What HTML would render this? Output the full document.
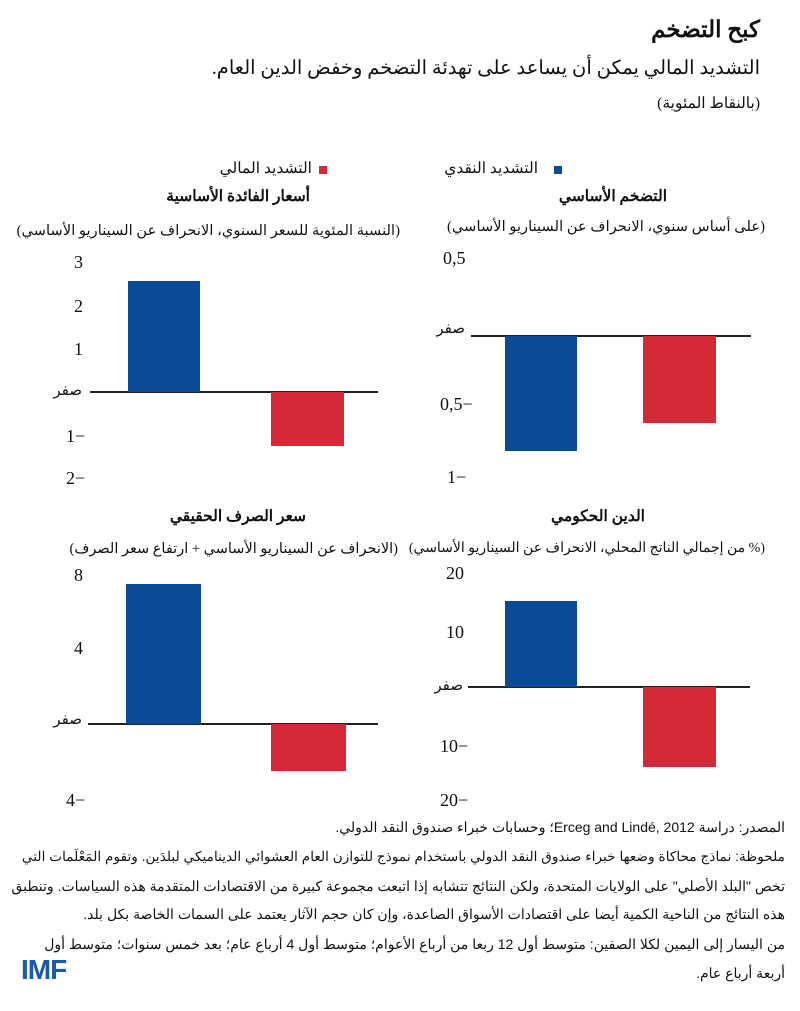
<!DOCTYPE html>
<html><head><meta charset="utf-8"><style>
body{margin:0;width:800px;height:1011px;background:#fff;position:relative;overflow:hidden;font-family:"Liberation Serif","Noto Sans CJK SC",serif;color:#111}
.t{position:absolute;white-space:nowrap;direction:rtl;line-height:1}
.tk{position:absolute;white-space:nowrap;font-size:18px;line-height:1;font-family:"Liberation Serif",serif}
.ax{position:absolute;height:1.5px;background:#222}
.b{position:absolute;background:#0b4a96}
.r{position:absolute;background:#d42a37}
.n{position:absolute;right:15px;white-space:nowrap;direction:rtl;font-size:14px;line-height:1;font-family:"Liberation Sans",sans-serif}
</style></head><body>
<div class="t" style="right:40px;top:18px;font-size:23px;font-weight:bold">كبح التضخم</div>
<div class="t" style="right:40px;top:59px;font-size:19.5px">التشديد المالي يمكن أن يساعد على تهدئة التضخم وخفض الدين العام.</div>
<div class="t" style="right:40px;top:96px;font-size:15.5px">(بالنقاط المئوية)</div>

<div class="b" style="left:554px;top:166px;width:8px;height:8px"></div>
<div class="t" style="right:262px;top:161px;font-size:15.5px">التشديد النقدي</div>
<div class="r" style="left:319px;top:166px;width:8px;height:8px"></div>
<div class="t" style="right:488px;top:161px;font-size:15.5px">التشديد المالي</div>

<!-- top right -->
<div class="t" style="right:133px;top:189px;font-size:15.5px;font-weight:bold">التضخم الأساسي</div>
<div class="t" style="right:35px;top:220px;font-size:14.7px">(على أساس سنوي، الانحراف عن السيناريو الأساسي)</div>
<div class="tk" style="left:443px;top:249px">0,5</div>
<div class="t" style="right:335px;top:322px;font-size:15px">صفر</div>
<div class="tk" style="left:440px;top:395px">0,5−</div>
<div class="tk" style="left:447px;top:468px">1−</div>
<div class="ax" style="left:471px;width:280px;top:335px"></div>
<div class="b" style="left:505px;width:72px;top:336px;height:115px"></div>
<div class="r" style="left:643px;width:73px;top:336px;height:87px"></div>

<!-- top left -->
<div class="t" style="right:490px;top:189px;font-size:15.5px;font-weight:bold">أسعار الفائدة الأساسية</div>
<div class="t" style="right:400px;top:224px;font-size:14.7px">(النسبة المئوية للسعر السنوي، الانحراف عن السيناريو الأساسي)</div>
<div class="tk" style="left:74px;top:253px">3</div>
<div class="tk" style="left:74px;top:297px">2</div>
<div class="tk" style="left:74px;top:340px">1</div>
<div class="t" style="right:718px;top:384px;font-size:15px">صفر</div>
<div class="tk" style="left:66px;top:427px">1−</div>
<div class="tk" style="left:66px;top:469px">2−</div>
<div class="ax" style="left:90px;width:288px;top:391px"></div>
<div class="b" style="left:128px;width:72px;top:281px;height:111px"></div>
<div class="r" style="left:271px;width:73px;top:392px;height:54px"></div>

<!-- bottom left -->
<div class="t" style="right:494px;top:509px;font-size:15.5px;font-weight:bold">سعر الصرف الحقيقي</div>
<div class="t" style="right:402px;top:542px;font-size:14.5px">(الانحراف عن السيناريو الأساسي + ارتفاع سعر الصرف)</div>
<div class="tk" style="left:74px;top:566px">8</div>
<div class="tk" style="left:74px;top:639px">4</div>
<div class="t" style="right:718px;top:713px;font-size:15px">صفر</div>
<div class="tk" style="left:66px;top:791px">4−</div>
<div class="ax" style="left:88px;width:290px;top:723px"></div>
<div class="b" style="left:126px;width:75px;top:584px;height:140px"></div>
<div class="r" style="left:271px;width:75px;top:724px;height:47px"></div>

<!-- bottom right -->
<div class="t" style="right:155px;top:509px;font-size:15.5px;font-weight:bold">الدين الحكومي</div>
<div class="t" style="right:35px;top:542px;font-size:14px">(% من إجمالي الناتج المحلي، الانحراف عن السيناريو الأساسي)</div>
<div class="tk" style="left:446px;top:564px">20</div>
<div class="tk" style="left:446px;top:623px">10</div>
<div class="t" style="right:337px;top:679px;font-size:15px">صفر</div>
<div class="tk" style="left:440px;top:737px">10−</div>
<div class="tk" style="left:440px;top:791px">20−</div>
<div class="ax" style="left:468px;width:282px;top:686px"></div>
<div class="b" style="left:505px;width:72px;top:601px;height:86px"></div>
<div class="r" style="left:643px;width:73px;top:687px;height:80px"></div>

<div class="n" style="top:820px">المصدر: دراسة Erceg and Lindé, 2012؛ وحسابات خبراء صندوق النقد الدولي.</div>
<div class="n" style="top:850px;font-size:13.7px">ملحوظة: نماذج محاكاة وضعها خبراء صندوق النقد الدولي باستخدام نموذج للتوازن العام العشوائي الديناميكي لبلدَين. وتقوم المَعْلَمات التي</div>
<div class="n" style="top:879px">تخص "البلد الأصلي" على الولايات المتحدة، ولكن النتائج تتشابه إذا اتبعت مجموعة كبيرة من الاقتصادات المتقدمة هذه السياسات. وتنطبق</div>
<div class="n" style="top:907px">هذه النتائج من الناحية الكمية أيضا على اقتصادات الأسواق الصاعدة، وإن كان حجم الآثار يعتمد على السمات الخاصة بكل بلد.</div>
<div class="n" style="top:937px">من اليسار إلى اليمين لكلا الصفين: متوسط أول 12 ربعا من أرباع الأعوام؛ متوسط أول 4 أرباع عام؛ بعد خمس سنوات؛ متوسط أول</div>
<div class="n" style="top:966px">أربعة أرباع عام.</div>
<div style="position:absolute;left:21px;top:956px;font-family:'Liberation Sans',sans-serif;font-weight:bold;font-size:28px;color:#1a5aa8;letter-spacing:-1px;line-height:1">IMF</div>
</body></html>
